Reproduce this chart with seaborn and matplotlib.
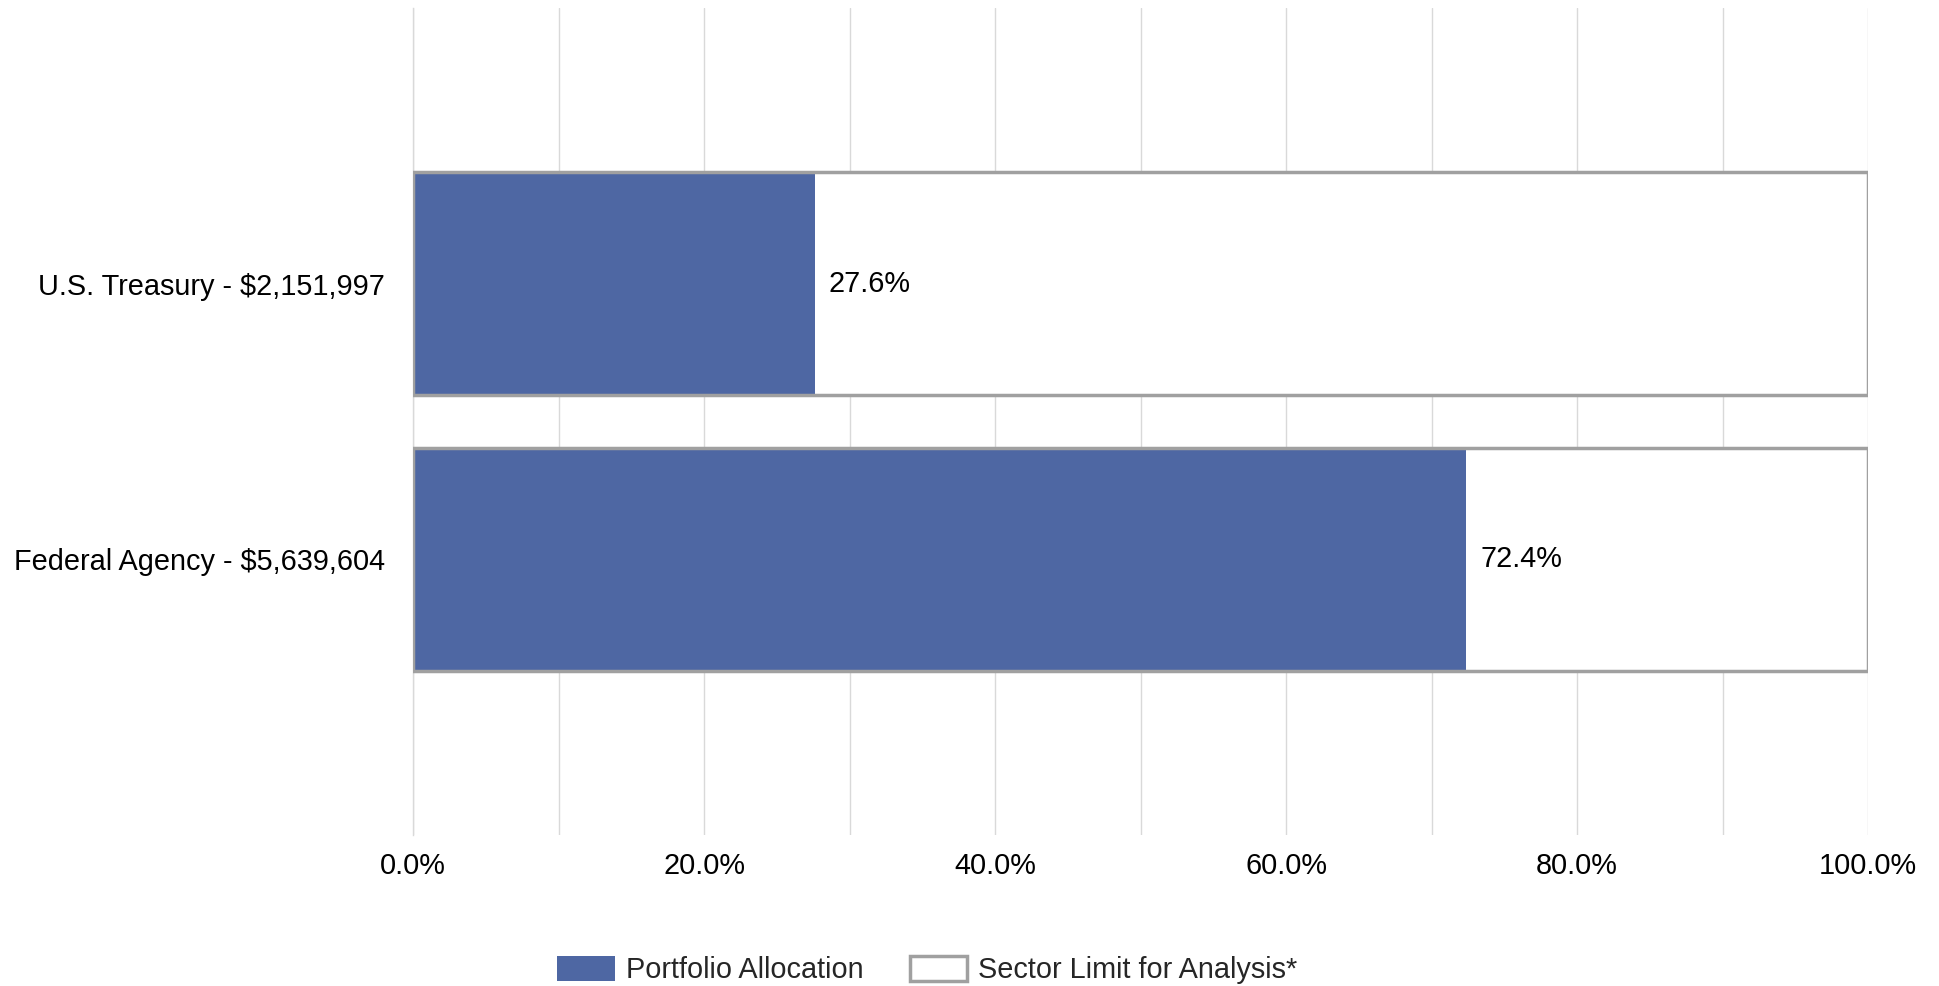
import seaborn as sns
import matplotlib.pyplot as plt
from matplotlib.patches import Patch

# Data
categories = ["U.S. Treasury - $2,151,997", "Federal Agency - $5,639,604"]
allocation = [27.6, 72.4]
sector_limit = [100, 100]
x_ticks = [0, 20, 40, 60, 80, 100]
x_tick_labels = ["0.0%", "20.0%", "40.0%", "60.0%", "80.0%", "100.0%"]

blue = "#4E67A3"
outline = "#A0A0A0"
grid = "#D9D9D9"

sns.set_style("white")
plt.rcParams["font.family"] = ["Liberation Sans", "DejaVu Sans"]
plt.rcParams["font.size"] = 20.8

fig = plt.figure(figsize=(19.4, 9.86), dpi=100)
ax = fig.add_axes([0.2129, 0.1531, 0.75, 0.8388])

bar_w = 0.81
# white background of limit bars, then allocation, then limit outline
sns.barplot(x=sector_limit, y=categories, orient="h", color="white",
            saturation=1, width=bar_w, linewidth=0, ax=ax, zorder=2)
sns.barplot(x=allocation, y=categories, orient="h", color=blue,
            saturation=1, width=bar_w, linewidth=0, ax=ax, zorder=3)
sns.barplot(x=sector_limit, y=categories, orient="h", color=outline,
            fill=False, width=bar_w, linewidth=2.5, ax=ax, zorder=4)

ax.bar_label(ax.containers[1], labels=[f"{v:.1f}%" for v in allocation],
             padding=10, fontsize=20.8, color="black")

ax.set(xlabel="", ylabel="")
ax.set_xlim(0, 100)
ax.set_ylim(2, -1)

ax.set_xticks(x_ticks)
ax.set_xticklabels(x_tick_labels)
ax.set_xticks(range(10, 100, 20), minor=True)
ax.set_yticks([0, 1])
ax.set_yticklabels(categories)
ax.set_yticks([-1, 2], minor=True)

ax.set_axisbelow(True)
ax.grid(True, axis="x", which="both", color=grid, linewidth=1.0)
ax.tick_params(axis="x", which="both", length=7.2, width=1.0, color=grid,
               pad=5, labelsize=20.8, labelcolor="black")
ax.tick_params(axis="y", which="both", length=14.4, width=1.0, color=grid,
               pad=5.8, labelsize=20.8, labelcolor="black")

for side in ["top", "right", "bottom"]:
    ax.spines[side].set_visible(False)
ax.spines["left"].set_color(grid)
ax.spines["left"].set_linewidth(1.0)

handles = [
    Patch(facecolor=blue, edgecolor=blue, linewidth=0),
    Patch(facecolor="white", edgecolor=outline, linewidth=2.5),
]
fig.legend(handles, ["Portfolio Allocation", "Sector Limit for Analysis*"],
           loc="center", bbox_to_anchor=(0.478, 0.0162), ncol=2,
           frameon=False, fontsize=20.8, handlelength=2.0, handleheight=0.97,
           handletextpad=0.37, columnspacing=1.6, borderpad=0)

plt.savefig("out.png", dpi=100)
